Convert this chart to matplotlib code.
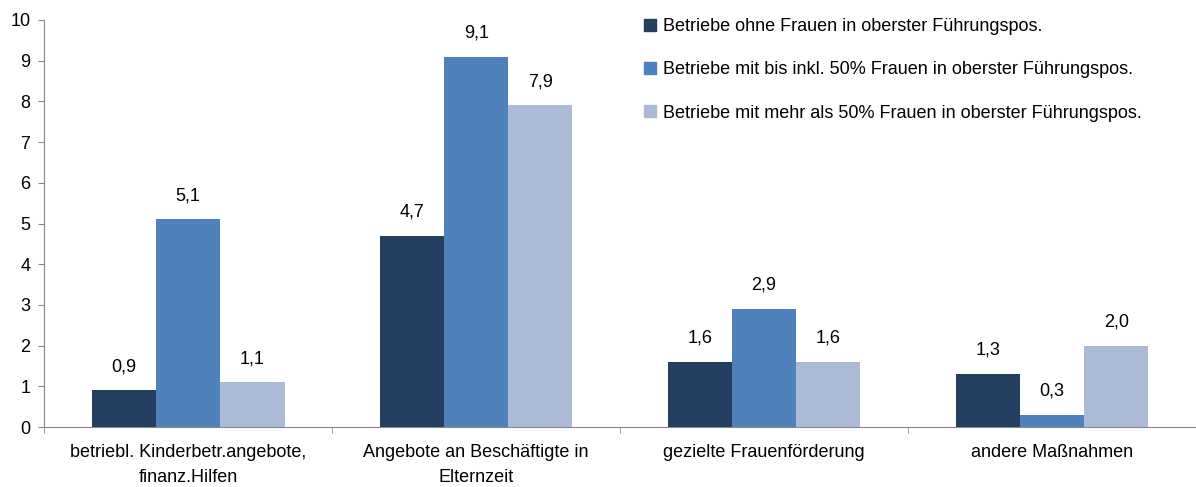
import matplotlib.pyplot as plt
from matplotlib.lines import Line2D
import numpy as np

plt.rcParams['font.family'] = ['Liberation Sans', 'DejaVu Sans']

# data
categories = ["betriebl. Kinderbetr.angebote,\nfinanz.Hilfen",
              "Angebote an Beschäftigte in\nElternzeit",
              "gezielte Frauenförderung",
              "andere Maßnahmen"]
series_names = ["Betriebe ohne Frauen in oberster Führungspos.",
                "Betriebe mit bis inkl. 50% Frauen in oberster Führungspos.",
                "Betriebe mit mehr als 50% Frauen in oberster Führungspos."]
ohne = [0.9, 4.7, 1.6, 1.3]
bis50 = [5.1, 9.1, 2.9, 0.3]
mehr50 = [1.1, 7.9, 1.6, 2.0]
colors = ['#243F60', '#4F81BD', '#AABAD7']

fig = plt.figure(figsize=(11.96, 4.87), dpi=100)
ax = fig.add_axes([0.037, 0.123, 0.963, 0.836])

x = np.arange(len(categories))
w = 0.223
for i, vals in enumerate([ohne, bis50, mehr50]):
    bars = ax.bar(x + (i - 1) * w, vals, w, color=colors[i], label=series_names[i])
    for b, v in zip(bars, vals):
        ax.annotate(f"{v:.1f}".replace('.', ','), (b.get_x() + b.get_width() / 2, v),
                    xytext=(0, 11), textcoords='offset points',
                    ha='center', va='bottom', fontsize=13)

ax.set_xlim(-0.5, len(categories) - 0.5)
ax.set_ylim(0, 10)
ax.set_yticks(range(0, 11))
ax.tick_params(axis='y', labelsize=13, length=4, color='#888888', pad=6)
ax.set_xticks(x)
ax.set_xticklabels(categories, fontsize=13, linespacing=1.6)
ax.tick_params(axis='x', length=0, pad=12)
ax.set_xticks(np.arange(len(categories) + 1) - 0.5, minor=True)
ax.tick_params(axis='x', which='minor', length=4, color='#888888')

for s in ['top', 'right']:
    ax.spines[s].set_visible(False)
for s in ['left', 'bottom']:
    ax.spines[s].set_color('#888888')

handles = [Line2D([], [], marker='s', linestyle='none', markersize=8,
                  color=c) for c in colors]
fig.legend(handles, series_names, loc='upper left', bbox_to_anchor=(0.522, 0.996),
           frameon=False, fontsize=13, labelspacing=1.45, handletextpad=0.25,
           handlelength=1.0)

plt.savefig('out.png', dpi=100)
